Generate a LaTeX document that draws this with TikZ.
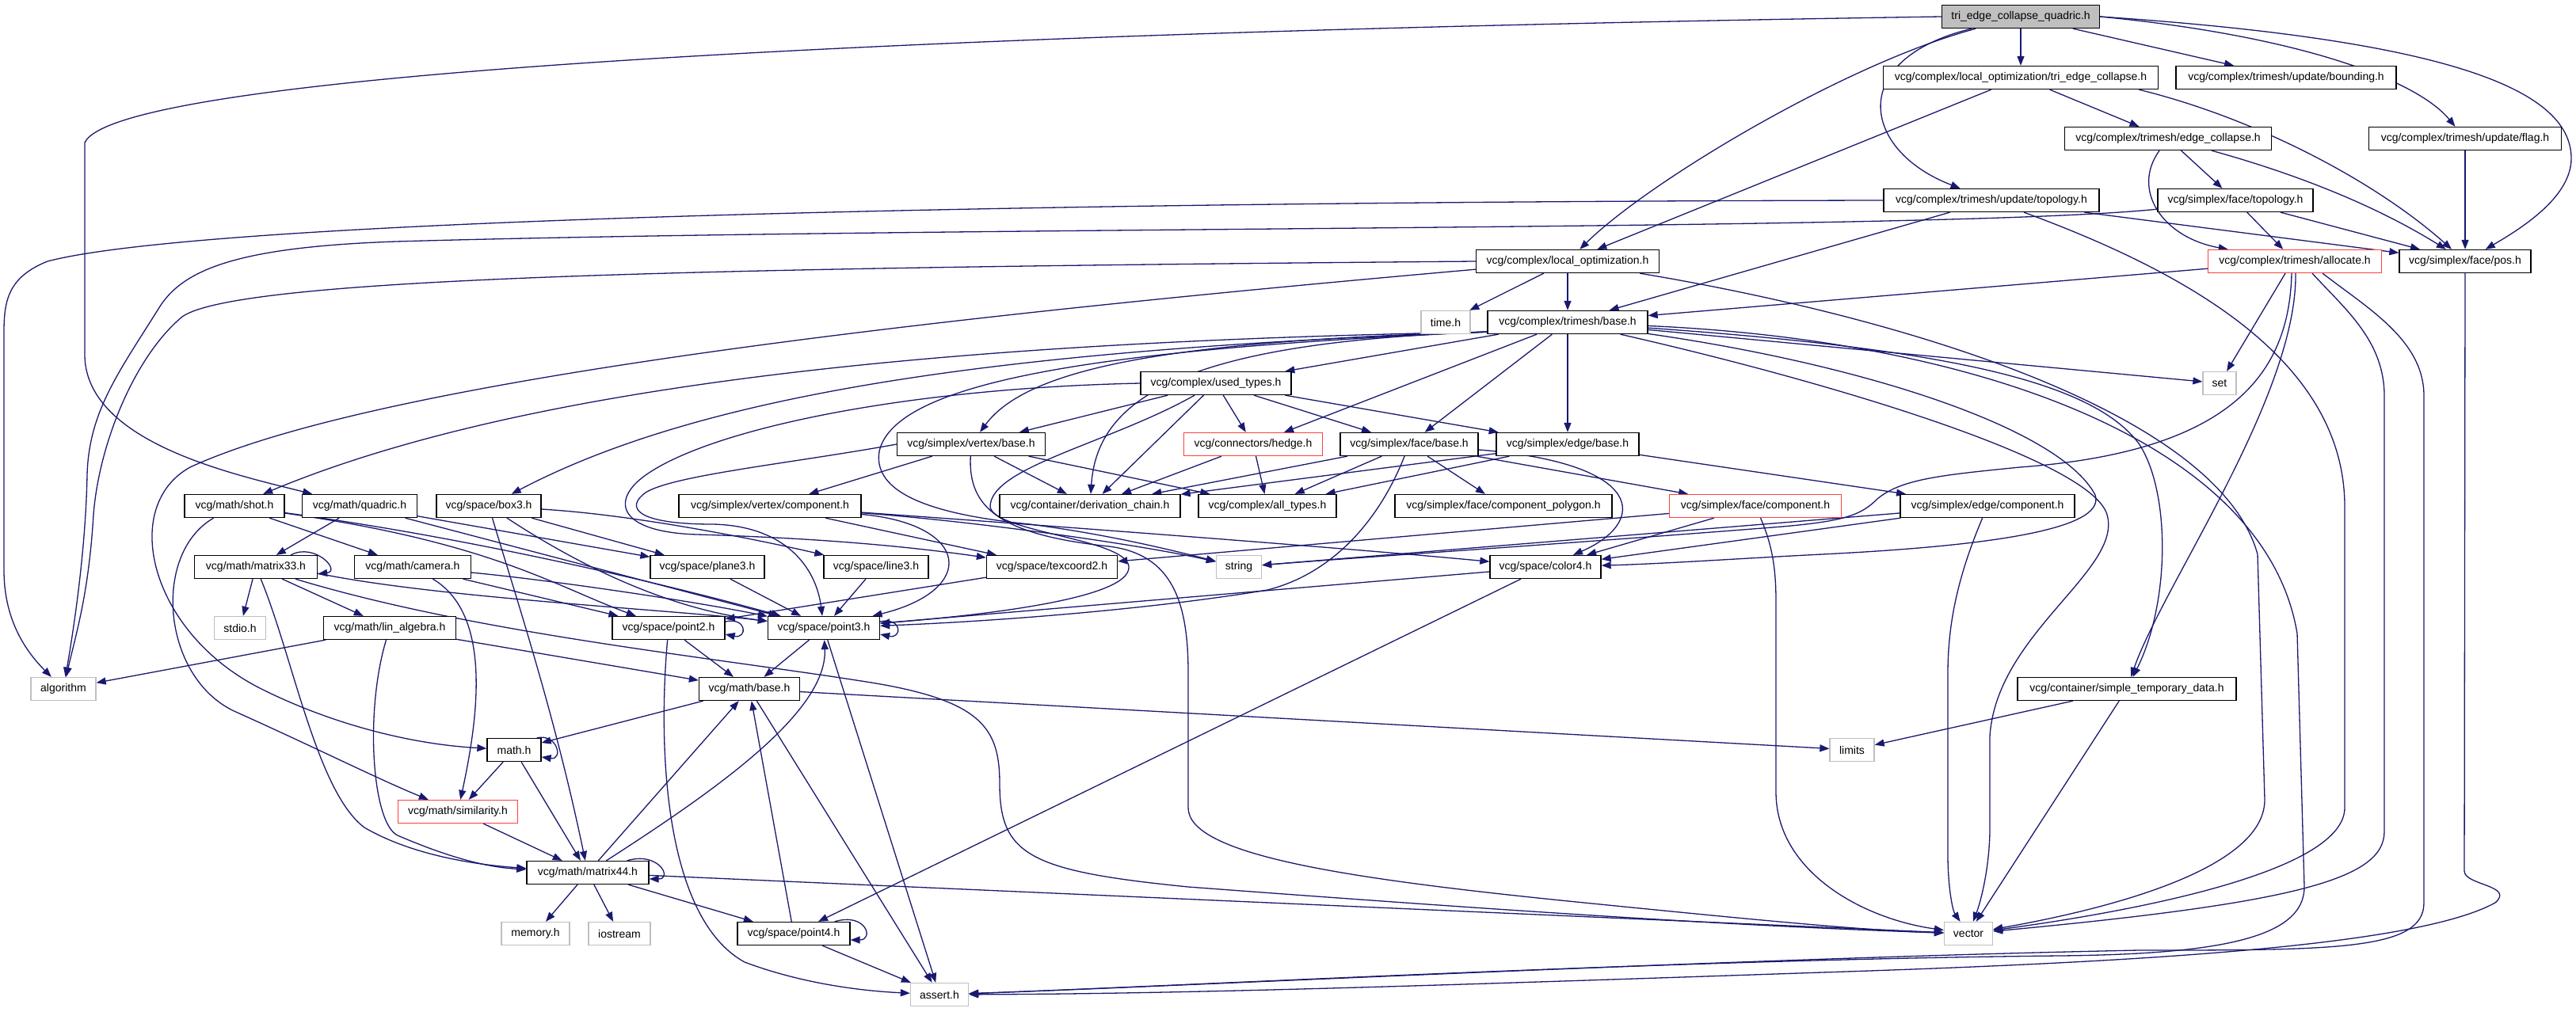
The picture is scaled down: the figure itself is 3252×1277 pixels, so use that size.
\documentclass[tikz,border=0pt]{standalone}
\usepackage{fontspec}
\setmainfont{Liberation Sans}
\usetikzlibrary{arrows.meta,calc}
\definecolor{edgec}{RGB}{25,25,112}
\definecolor{grayb}{RGB}{191,191,191}
\definecolor{redb}{RGB}{255,64,64}
\definecolor{rootf}{RGB}{191,191,191}
\pgfdeclarelayer{bgzero}
\pgfdeclarelayer{edges}
\pgfsetlayers{bgzero,edges,main}
\newcommand\nfont{\fontsize{14pt}{16pt}\selectfont}
\tikzset{
  nd/.style={rectangle, draw=black, line width=1.3pt, fill=white, minimum height=29pt, inner sep=0pt, font=\nfont, text=black},
  grn/.style={nd, draw=grayb},
  rdn/.style={nd, draw=redb},
  rtn/.style={nd, fill=rootf},
  conn/.style={draw=edgec, line width=1.3pt, -{Triangle[length=12pt,width=9pt]}},
}
\begin{document}
\begin{tikzpicture}[x=1pt,y=-1pt]
\begin{pgfonlayer}{bgzero}
\fill[white] (0,0) rectangle (3252,1277);
\end{pgfonlayer}
\useasboundingbox (0,0) rectangle (3252,1277);
% nodes
\node[rtn, minimum width=199pt] (Q) at (2551,21) {tri\_edge\_collapse\_quadric.h};
\node[nd, minimum width=347pt] (TEC) at (2551,98) {vcg/complex/local\_optimization/tri\_edge\_collapse.h};
\node[nd, minimum width=278pt] (BND) at (2886,98) {vcg/complex/trimesh/update/bounding.h};
\node[nd, minimum width=261pt] (EC) at (2737,175) {vcg/complex/trimesh/edge\_collapse.h};
\node[nd, minimum width=243pt] (FLG) at (3112,175) {vcg/complex/trimesh/update/flag.h};
\node[nd, minimum width=272pt] (UT) at (2514,253) {vcg/complex/trimesh/update/topology.h};
\node[nd, minimum width=196pt] (FT) at (2822,253) {vcg/simplex/face/topology.h};
\node[nd, minimum width=231pt] (LO) at (1979,330) {vcg/complex/local\_optimization.h};
\node[rdn, minimum width=219pt] (AL) at (2897,330) {vcg/complex/trimesh/allocate.h};
\node[nd, minimum width=166pt] (POS) at (3112,330) {vcg/simplex/face/pos.h};
\node[grn, minimum width=62pt] (TIME) at (1825,407) {time.h};
\node[nd, minimum width=202pt] (TB) at (1979,407) {vcg/complex/trimesh/base.h};
\node[grn, minimum width=42pt] (SET) at (2802,484) {set};
\node[nd, minimum width=190pt] (UT2) at (1535,484) {vcg/complex/used\_types.h};
\node[nd, minimum width=187pt] (VB) at (1226,561) {vcg/simplex/vertex/base.h};
\node[rdn, minimum width=175pt] (HE) at (1582,561) {vcg/connectors/hedge.h};
\node[nd, minimum width=174pt] (FB) at (1779,561) {vcg/simplex/face/base.h};
\node[nd, minimum width=180pt] (EB) at (1979,561) {vcg/simplex/edge/base.h};
\node[nd, minimum width=126pt] (SHOT) at (296,639) {vcg/math/shot.h};
\node[nd, minimum width=145pt] (QUAD) at (454,639) {vcg/math/quadric.h};
\node[nd, minimum width=132pt] (BOX) at (617,639) {vcg/space/box3.h};
\node[nd, minimum width=230pt] (VC) at (972,639) {vcg/simplex/vertex/component.h};
\node[nd, minimum width=228pt] (DC) at (1376,639) {vcg/container/derivation\_chain.h};
\node[nd, minimum width=174pt] (ALLT) at (1600,639) {vcg/complex/all\_types.h};
\node[nd, minimum width=274pt] (CP) at (1898,639) {vcg/simplex/face/component\_polygon.h};
\node[rdn, minimum width=217pt] (FC) at (2216,639) {vcg/simplex/face/component.h};
\node[nd, minimum width=220pt] (ECMP) at (2509,639) {vcg/simplex/edge/component.h};
\node[nd, minimum width=155pt] (M33) at (323,716) {vcg/math/matrix33.h};
\node[nd, minimum width=147pt] (CAM) at (521,716) {vcg/math/camera.h};
\node[nd, minimum width=144pt] (P3) at (893,716) {vcg/space/plane3.h};
\node[nd, minimum width=132pt] (L3) at (1106,716) {vcg/space/line3.h};
\node[nd, minimum width=165pt] (TC2) at (1328,716) {vcg/space/texcoord2.h};
\node[grn, minimum width=57pt] (STR) at (1564,716) {string};
\node[nd, minimum width=140pt] (COL) at (1951,716) {vcg/space/color4.h};
\node[grn, minimum width=65pt] (STDIO) at (303,793) {stdio.h};
\node[nd, minimum width=167pt] (LIN) at (492,793) {vcg/math/lin\_algebra.h};
\node[nd, minimum width=142pt] (P2) at (844,793) {vcg/space/point2.h};
\node[nd, minimum width=141pt] (P3D) at (1040,793) {vcg/space/point3.h};
\node[grn, minimum width=82pt] (ALGO) at (80,870) {algorithm};
\node[nd, minimum width=127pt] (MB) at (946,870) {vcg/math/base.h};
\node[nd, minimum width=276pt] (STD) at (2685,870) {vcg/container/simple\_temporary\_data.h};
\node[nd, minimum width=68pt] (MATH) at (649,947) {math.h};
\node[grn, minimum width=56pt] (LIM) at (2338,947) {limits};
\node[rdn, minimum width=151pt] (SIM) at (578,1025) {vcg/math/similarity.h};
\node[nd, minimum width=154pt] (M44) at (742,1102) {vcg/math/matrix44.h};
\node[grn, minimum width=86pt] (MEM) at (676,1179) {memory.h};
\node[grn, minimum width=78pt] (IOS) at (782,1179) {iostream};
\node[nd, minimum width=142pt] (P4) at (1002,1179) {vcg/space/point4.h};
\node[grn, minimum width=61pt] (VEC) at (2485,1179) {vector};
\node[grn, minimum width=73pt] (ASRT) at (1186,1256) {assert.h};

\begin{pgfonlayer}{edges}
% Q
\draw[conn] (Q) -- (TEC);
\draw[conn] (Q) -- (BND);
\draw[conn] (Q.east) .. controls (2900,45) and (3050,100) .. (FLG);
\draw[conn] (Q.east) .. controls (3080,50) and (3246,110) .. (3246,200) .. controls (3246,250) and (3180,290) .. (POS);
\draw[conn] (Q) .. controls (2330,80) and (2080,230) .. (LO);
\draw[conn] (Q) .. controls (2330,75) and (2350,190) .. (UT);
\draw[conn] (Q.west) .. controls (1200,40) and (150,90) .. (107,180) -- (107,450) .. controls (110,560) and (300,600) .. (QUAD);
% TEC
\draw[conn] (TEC) -- (EC);
\draw[conn] (TEC) -- (LO);
\draw[conn] ($(TEC.south east)+(-25,0)$) .. controls (2850,150) and (3000,230) .. (POS);
% EC
\draw[conn] (EC) .. controls (2690,240) and (2730,300) .. (AL);
\draw[conn] (EC) -- (FT);
\draw[conn] (EC) .. controls (2900,220) and (3000,260) .. (POS);
\draw[conn] (FLG) -- (POS);
% UT
\draw[conn] (UT) -- (POS);
\draw[conn] (UT) -- (TB);
\draw[conn] (UT.west) .. controls (1200,255) and (250,280) .. (60,330) .. controls (10,350) and (5,380) .. (5,420) -- (5,720) .. controls (5,780) and (30,820) .. (ALGO);
\draw[conn] (UT) .. controls (2750,340) and (2960,450) .. (2960,640) -- (2960,1020) .. controls (2960,1100) and (2700,1150) .. (VEC);
% FT
\draw[conn] (FT) -- (AL);
\draw[conn] (FT) -- (POS);
\draw[conn] ($(FT.south west)+(0,-4)$) .. controls (2450,292) and (1200,285) .. (500,305) .. controls (300,312) and (230,340) .. (200,390) .. controls (150,470) and (112,520) .. (110,600) .. controls (108,700) and (92,800) .. (ALGO);
% LO
\draw[conn] (LO) -- (TIME);
\draw[conn] (LO) -- (TB);
\draw[conn] (LO.west) .. controls (900,338) and (300,350) .. (230,400) .. controls (170,450) and (125,560) .. (118,650) .. controls (112,750) and (96,800) .. (ALGO);
\draw[conn] ($(LO.south west)+(0,-5)$) .. controls (1300,390) and (500,470) .. (240,590) .. controls (150,640) and (190,800) .. (330,870) .. controls (420,915) and (520,940) .. (MATH);
\draw[conn] (LO) .. controls (2400,400) and (2800,520) .. (2850,700) -- (2859,1010) .. controls (2859,1100) and (2650,1150) .. (VEC);
% AL
\draw[conn] (AL) -- (TB);
\draw[conn] ($(AL.south)+(-12,0)$) -- (SET);
\draw[conn] ($(AL.south)+(-4,0)$) .. controls (2890,470) and (2820,570) .. (2550,590) .. controls (2450,600) and (2400,605) .. (2370,630) .. controls (2350,650) and (2330,658) .. (2250,665) .. controls (2000,685) and (1700,705) .. (STR);
\draw[conn] ($(AL.south)+(1,0)$) .. controls (2900,500) and (2730,740) .. (STD);
\draw[conn] ($(AL.south)+(22,0)$) .. controls (2960,390) and (3010,430) .. (3010,500) -- (3010,1050) .. controls (3010,1110) and (2900,1140) .. (VEC);
\draw[conn] ($(AL.south)+(35,0)$) .. controls (2990,390) and (3060,430) .. (3060,500) -- (3060,1140) .. controls (3060,1200) and (2950,1200) .. (2700,1200) .. controls (2200,1210) and (1500,1245) .. (ASRT);
\draw[conn] (POS) -- (3111,1100) .. controls (3111,1118) and (3175,1118) .. (3150,1140) .. controls (3050,1195) and (2700,1215) .. (2300,1228) .. controls (1800,1245) and (1500,1255) .. (ASRT);
% TB
\draw[conn] (TB) -- (SET);
\draw[conn] (TB) -- (UT2);
\draw[conn] ($(TB.south west)+(0,-3)$) .. controls (1500,430) and (1300,460) .. (VB);
\draw[conn] (TB) -- (HE);
\draw[conn] (TB) -- (FB);
\draw[conn] (TB) -- (EB);
\draw[conn] ($(TB.south west)+(0,-3)$) .. controls (1500,432) and (1385,500) .. (DC);
\draw[conn] ($(TB.south west)+(0,-3)$) .. controls (1300,430) and (700,470) .. (SHOT);
\draw[conn] ($(TB.south west)+(0,-3)$) .. controls (1300,440) and (900,490) .. (BOX);
\draw[conn] ($(TB.south west)+(0,-3)$) .. controls (1400,440) and (1130,480) .. (1110,570) .. controls (1100,630) and (1200,652) .. (1300,662) .. controls (1400,675) and (1480,695) .. (STR);
\draw[conn] (TB) .. controls (2450,440) and (2640,480) .. (2700,560) .. controls (2740,620) and (2740,760) .. (STD);
\draw[conn] (TB) .. controls (2350,460) and (2600,540) .. (2645,625) .. controls (2660,670) and (2500,690) .. (2300,700) .. controls (2200,705) and (2100,712) .. (COL);
\draw[conn] (TB) .. controls (2300,480) and (2640,580) .. (2660,650) .. controls (2680,720) and (2520,800) .. (2512,930) -- (2512,1050) .. controls (2511,1100) and (2500,1140) .. (VEC);
\draw[conn] (TB) .. controls (2500,430) and (2860,560) .. (2900,800) -- (2909,1120) .. controls (2909,1185) and (2800,1205) .. (2600,1207) .. controls (2100,1212) and (1500,1245) .. (ASRT);
% UT2
\draw[conn] (UT2) -- (VB);
\draw[conn] (UT2) -- (HE);
\draw[conn] (UT2) -- (FB);
\draw[conn] (UT2) -- (EB);
\draw[conn] (UT2) -- (DC);
\draw[conn] (UT2) .. controls (1400,560) and (1250,590) .. (1250,640) .. controls (1255,672) and (1420,680) .. (1425,715) .. controls (1430,760) and (1200,780) .. (P3D);
\draw[conn] (UT2.west) .. controls (1150,490) and (900,540) .. (815,600) .. controls (770,632) and (780,672) .. (880,675) .. controls (1050,680) and (1160,692) .. (TC2);
% VB
\draw[conn] (VB.west) .. controls (1000,585) and (850,600) .. (815,622) .. controls (790,640) and (800,662) .. (900,662) .. controls (990,664) and (1030,715) .. (P3D);
\draw[conn] (VB) -- (VC);
\draw[conn] (VB) -- (DC);
\draw[conn] (VB) -- (ALLT);
\draw[conn] (VB) .. controls (1222,640) and (1260,675) .. (1400,690) .. controls (1480,700) and (1500,760) .. (1500,850) -- (1500,1020) .. controls (1500,1080) and (1700,1110) .. (2000,1140) .. controls (2200,1160) and (2350,1175) .. (VEC);
% HE
\draw[conn] (HE) -- (DC);
\draw[conn] (HE) -- (ALLT);
% FB
\draw[conn] (FB) -- (DC);
\draw[conn] (FB) -- (ALLT);
\draw[conn] (FB) -- (CP);
\draw[conn] (FB) -- (FC);
\draw[conn] (FB) .. controls (2080,585) and (2080,660) .. (COL);
\draw[conn] (FB) .. controls (1740,660) and (1680,725) .. (1600,745) .. controls (1450,770) and (1250,785) .. (P3D);
% EB
\draw[conn] (EB) -- (DC);
\draw[conn] (EB) -- (ALLT);
\draw[conn] (EB) -- (ECMP);
% VC
\draw[conn] (VC) -- (TC2);
\draw[conn] (VC) .. controls (1250,660) and (1450,690) .. (STR);
\draw[conn] (VC) .. controls (1300,662) and (1700,692) .. (COL);
\draw[conn] (VC) .. controls (1225,662) and (1235,745) .. (P3D);
% ECMP
\draw[conn] (ECMP) -- (COL);
\draw[conn] (ECMP) -- (STR);
\draw[conn] (ECMP) .. controls (2475,720) and (2459,780) .. (2459,850) -- (2459,1080) .. controls (2459,1120) and (2465,1150) .. (VEC);
% FC
\draw[conn] (FC) -- (TC2);
\draw[conn] (FC) -- (COL);
\draw[conn] (FC) .. controls (2238,690) and (2242,720) .. (2242,760) -- (2242,1000) .. controls (2242,1100) and (2350,1160) .. (VEC);
% STD
\draw[conn] (STD) -- (LIM);
\draw[conn] (STD) -- (VEC);
% SHOT
\draw[conn] (SHOT) .. controls (620,685) and (700,740) .. (P2);
\draw[conn] (SHOT) .. controls (600,680) and (850,740) .. (P3D);
\draw[conn] (SHOT) .. controls (190,700) and (205,860) .. (300,900) .. controls (400,945) and (480,985) .. (SIM);
\draw[conn] (SHOT) -- (CAM);
% QUAD
\draw[conn] (QUAD) -- (M33);
\draw[conn] (QUAD) -- (P3);
\draw[conn] (QUAD) -- (P3D);
% BOX
\draw[conn] (BOX) .. controls (650,750) and (700,900) .. (M44);
\draw[conn] (BOX) .. controls (800,650) and (950,680) .. (L3);
\draw[conn] (BOX) -- (P3);
\draw[conn] (BOX) .. controls (740,720) and (850,770) .. (P3D);
% M33
\draw[conn] (M33) -- (STDIO);
\draw[conn] (M33) -- (LIN);
\draw[conn] (M33) .. controls (370,830) and (400,1000) .. (460,1045) .. controls (520,1080) and (600,1092) .. (M44);
\draw[conn] ($(M33.east)+(0,8)$) .. controls (550,755) and (850,770) .. (P3D);
\draw[conn] (M33) .. controls (600,800) and (900,830) .. (1100,862) .. controls (1240,885) and (1262,920) .. (1262,990) .. controls (1262,1080) and (1300,1100) .. (1500,1120) .. controls (1900,1150) and (2200,1170) .. (VEC);
\draw[conn] ($(M33.north east)+(-34,0)$) .. controls +(30,-16) and +(30,-4) .. ($(M33.east)+(0,9)$);
% CAM
\draw[conn] (CAM) -- (P2);
\draw[conn] (CAM) .. controls (700,733) and (880,760) .. (P3D);
\draw[conn] (CAM) .. controls (620,775) and (605,900) .. (SIM);
% LIN
\draw[conn] (LIN) -- (ALGO);
\draw[conn] (LIN) .. controls (460,900) and (470,1040) .. (502,1055) .. controls (560,1080) and (610,1095) .. (M44);
\draw[conn] (LIN) -- (MB);
% P2
\draw[conn] (P2) -- (MB);
\draw[conn] (P2) .. controls (830,950) and (840,1160) .. (940,1215) .. controls (1020,1245) and (1100,1252) .. (ASRT);
\draw[conn] ($(P2.east)+(0,-8)$) .. controls +(28,-6) and +(28,6) .. ($(P2.east)+(0,8)$);
% P3D
\draw[conn] (P3D) -- (MB);
\draw[conn] (P3D) -- (ASRT);
\draw[conn] ($(P3D.east)+(0,-8)$) .. controls +(28,-6) and +(28,6) .. ($(P3D.east)+(0,8)$);
% MB
\draw[conn] (MB) -- (MATH);
\draw[conn] (MB) -- (LIM);
\draw[conn] (MB) -- (ASRT);
% MATH
\draw[conn] (MATH) -- (SIM);
\draw[conn] (MATH) -- (M44);
\draw[conn] ($(MATH.north east)+(-6,0)$) .. controls +(26,-6) and +(28,4) .. ($(MATH.east)+(0,9)$);
% SIM
\draw[conn] (SIM) -- (M44);
% M44
\draw[conn] (M44) -- (MEM);
\draw[conn] (M44) -- (IOS);
\draw[conn] (M44) -- (P4);
\draw[conn] (M44) -- (MB);
\draw[conn] (M44) .. controls (900,1000) and (1045,900) .. (P3D);
\draw[conn] (M44) -- (VEC);
\draw[conn] ($(M44.north east)+(-28,0)$) .. controls +(40,-12) and +(30,0) .. ($(M44.east)+(0,8)$);
% P4
\draw[conn] (P4) -- (MB);
\draw[conn] (P4) -- (ASRT);
\draw[conn] ($(P4.north east)+(-20,0)$) .. controls +(40,-12) and +(30,0) .. ($(P4.east)+(0,8)$);
% COL
\draw[conn] (COL) -- (P3D);
\draw[conn] (COL) -- (P4);
% TC2, P3, L3
\draw[conn] (TC2) -- (P2);
\draw[conn] (P3) -- (P3D);
\draw[conn] (L3) -- (P3D);
\end{pgfonlayer}
\end{tikzpicture}
\end{document}
